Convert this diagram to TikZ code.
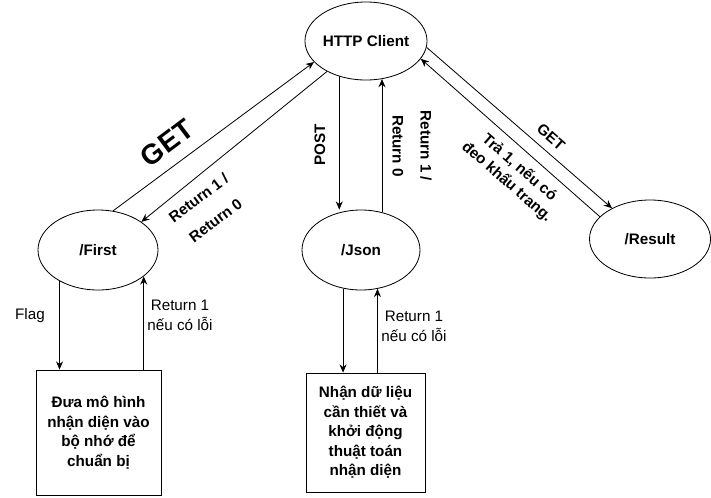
\documentclass[tikz,border=0pt]{standalone}
\usepackage{fontspec}
\setmainfont{Liberation Sans}
\usepackage{tikz}
\usetikzlibrary{shapes}
\usetikzlibrary{positioning}
\usetikzlibrary{arrows.meta}
\tikzset{
    endpoint/.style = {ellipse, draw=black, line width=0.7pt, align=center, inner sep=0pt, font=\fontsize{13}{16}\selectfont\bfseries},
    taskbox/.style = {rectangle, draw=black, line width=0.7pt, align=center, inner sep=0pt, font=\fontsize{13}{16.6}\selectfont\bfseries},
    edgen/.style = {-{Stealth[length=7pt,width=6pt]}, line width=0.7pt},
    lbl/.style = {align=center, inner sep=0pt, font=\fontsize{13}{17}\selectfont},
    lblb/.style = {align=center, inner sep=0pt, font=\fontsize{13}{16.2}\selectfont\bfseries},
    lblw/.style = {align=center, inner sep=0pt, font=\fontsize{13}{24}\selectfont\bfseries}, % wide line gap
    lblbig/.style = {align=center, inner sep=0pt, font=\fontsize{24}{28}\selectfont\bfseries}
}

\begin{document}
\begin{tikzpicture}[x=0.03cm, y=-0.03cm]
  \useasboundingbox (0,0) rectangle (711,497);
  % endpoints
  \node[endpoint, minimum width=3.63cm, minimum height=2.34cm] at (366,41) (http) {HTTP Client};
  \node[endpoint, minimum width=3.6cm, minimum height=2.4cm] at (98,250) (first) {/First};
  \node[endpoint, minimum width=3.54cm, minimum height=2.4cm] at (361,250) (json) {/Json};
  \node[endpoint, minimum width=3.63cm, minimum height=2.34cm] at (650,239) (result) {/Result};
  % tasks
  \node[taskbox, minimum size=3.75cm] at (98.5,432.5) (load) {Đưa mô hình\\nhận diện vào\\bộ nhớ để\\chuẩn bị};
  \node[taskbox, minimum size=3.57cm] at (365.5,432.5) (detect) {Nhận dữ liệu\\cần thiết và\\khởi động\\thuật toán\\nhận diện};

  \draw[edgen] (first.69) -- (http.202);
  \draw[edgen] (http.218) -- (first.33);
  \draw[edgen] (http.233) -- (http.233 |- json.north);
  \draw[edgen] (json.61) -- (json.61 |- http.293);
  \draw[edgen] (http.354) -- (result.141);
  \draw[edgen] (result.156) -- (http.342);
  \draw[edgen] (first.219) -- (first.219 |- load.north);
  \draw[edgen] (first.330 |- load.north) -- (first.330);
  \draw[edgen] (json.245) -- (json.245 |- detect.north);
  \draw[edgen] (json.293 |- detect.north) -- (json.293);

  \node[lblbig, rotate=37] at (167,143) (getfirst) {GET};
  \node[lblw, rotate=37] at (207,209) (retfirst) {Return 1 /\\Return 0};
  \node[lblb, rotate=90] at (320,145) (post) {POST};
  \node[lblw, rotate=-90] at (412,146) (retjson) {Return 1 /\\Return 0};
  \node[lblb, rotate=-41] at (551,137) (getresult) {GET};
  \node[lblb, rotate=-41] at (513,175) (retresult) {Trả 1, nếu có\\đeo khẩu trang.};
  \node[lbl] at (30,316) (flag) {Flag};
  \node[lbl] at (180,315) (retload) {Return 1\\nếu có lỗi};
  \node[lbl] at (414,326) (retdetect) {Return 1\\nếu có lỗi};

 \end{tikzpicture}
\end{document}
